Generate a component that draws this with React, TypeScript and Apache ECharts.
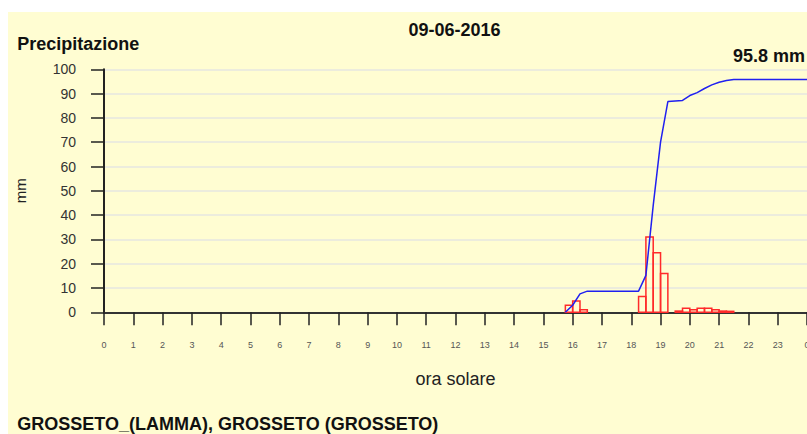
import React, { useEffect, useRef } from "react";
import * as echarts from "echarts";

const dateLabel = "09-06-2016";
const chartTitle = "Precipitazione";
const totalLabel = "95.8 mm";
const stationLabel = "GROSSETO_(LAMMA), GROSSETO (GROSSETO)";
const yAxisName = "mm";
const xAxisName = "ora solare";

// 15-minute rain amounts (interval start hour, mm)
const barStartHours = [15.75, 16, 16.25, 18.25, 18.5, 18.75, 19, 19.5, 19.75, 20, 20.25, 20.5, 20.75, 21, 21.25];
const barValues = [2.9, 4.7, 1.1, 6.5, 31, 24.5, 16, 0.5, 1.7, 1.1, 1.7, 1.7, 1.1, 0.5, 0.4];
const barDuration = 0.25;

// cumulative rain line (hour, mm)
const lineHours = [15.75, 16, 16.25, 16.5, 18.25, 18.5, 18.75, 19, 19.25, 19.75, 20, 20.25, 20.5, 20.75, 21, 21.25, 21.5, 24];
const lineValues = [0, 2.9, 7.6, 8.7, 8.7, 15.2, 44, 70, 86.7, 87.2, 89.2, 90.4, 92.1, 93.6, 94.7, 95.4, 95.8, 95.8];

const FONT = "'Liberation Sans', Arial, Helvetica, sans-serif";

export default function App() {
  const ref = useRef<HTMLDivElement>(null);
  useEffect(() => {
    if (!ref.current) return;
    const chart = echarts.init(ref.current, null, { renderer: "svg" });
    const barData = barStartHours.map((s, i) => [s, s + barDuration, barValues[i]]);
    const lineData = lineHours.map((h, i) => [h, lineValues[i]]);
    chart.setOption({
      animation: false,
      backgroundColor: "#fffdd2",
      grid: { left: 96, right: 0, top: 57.3, bottom: 121.7, containLabel: false, outerBoundsMode: "none" },
      xAxis: {
        type: "value",
        min: 0,
        max: 24,
        interval: 1,
        name: xAxisName,
        nameLocation: "middle",
        nameGap: 58,
        nameTextStyle: { fontFamily: FONT, fontSize: 18, color: "#222" },
        axisLine: { onZero: false, lineStyle: { color: "#333", width: 2 } },
        axisTick: { show: true, length: 13, lineStyle: { color: "#222", width: 1.5 } },
        axisLabel: {
          margin: 28,
          fontFamily: FONT,
          fontSize: 9,
          color: "#555",
          showMaxLabel: true,
          formatter: (v: number) => String(v % 24),
        },
        splitLine: { show: false },
      },
      yAxis: {
        type: "value",
        min: 0,
        max: 100,
        interval: 10,
        name: yAxisName,
        nameLocation: "middle",
        nameGap: 76,
        nameRotate: 90,
        nameTextStyle: { fontFamily: FONT, fontSize: 15, color: "#222" },
        axisLine: { show: true, lineStyle: { color: "#222", width: 2 } },
        axisTick: { show: true, length: 13, lineStyle: { color: "#222", width: 1.5 } },
        axisLabel: { margin: 28, fontFamily: FONT, fontSize: 14, color: "#333" },
        splitLine: { show: true, lineStyle: { color: "#e6e6e0", width: 1.5 } },
      },
      series: [
        {
          type: "custom",
          data: barData,
          encode: { x: [0, 1], y: 2 },
          z: 2,
          renderItem: (params: any, api: any) => {
            const start = api.value(0);
            const end = api.value(1);
            const v = api.value(2);
            const p0 = api.coord([start, v]);
            const p1 = api.coord([end, 0]);
            return {
              type: "rect",
              shape: { x: p0[0], y: p0[1], width: p1[0] - p0[0], height: p1[1] - p0[1] },
              style: { fill: "none", stroke: "#ff2a2a", lineWidth: 1.5 },
            };
          },
        },
        {
          type: "line",
          data: lineData,
          z: 3,
          showSymbol: false,
          symbol: "none",
          lineStyle: { color: "#2020f0", width: 1.5 },
        },
      ],
      graphic: [
        {
          type: "text",
          style: { text: dateLabel, x: 446.5, y: 18, align: "center", verticalAlign: "middle", font: `bold 18px ${FONT}`, fill: "#111" },
        },
        {
          type: "text",
          style: { text: chartTitle, x: 9.3, y: 32, verticalAlign: "middle", font: `bold 18px ${FONT}`, fill: "#111" },
        },
        {
          type: "text",
          style: { text: totalLabel, x: 725, y: 44, verticalAlign: "middle", font: `bold 18px ${FONT}`, fill: "#111" },
        },
        {
          type: "text",
          style: { text: stationLabel, x: 9.3, y: 412, verticalAlign: "middle", font: `bold 18px ${FONT}`, fill: "#111" },
        },
      ],
    });
    return () => chart.dispose();
  }, []);
  return (
    <div
      ref={ref}
      style={{ position: "fixed", left: 8, top: 12, width: 799, height: 422, background: "#fffdd2" }}
    />
  );
}
